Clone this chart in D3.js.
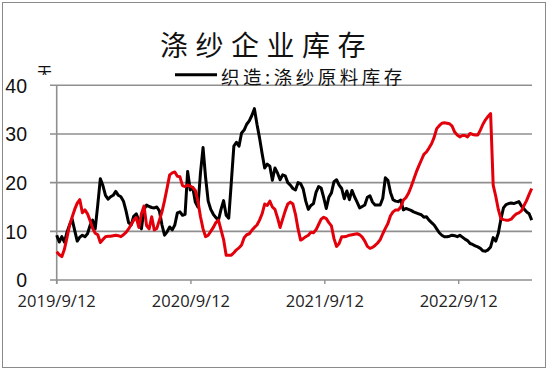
<!DOCTYPE html>
<html><head><meta charset="utf-8">
<script src="https://cdn.jsdelivr.net/npm/d3@7/dist/d3.min.js"></script>
<style>html,body{margin:0;padding:0;background:#fff;}svg{display:block;}</style>
</head><body>
<script>
const titleText = "涤纱企业库存";
const legendLabel = "织造:涤纱原料库存";
const unitLabel = "天";
const startDate = "2019-09-12";
const xTickDates = ["2019-09-12", "2020-09-12", "2021-09-12", "2022-09-12"];
const xTickLabels = ["2019/9/12", "2020/9/12", "2021/9/12", "2022/9/12"];
const yTicks = [0, 10, 20, 30, 40];

// weekly values
const blackValues = [9.2,7.8,8.9,7.8,9.8,11.3,12.5,10.2,8.0,8.8,
9.2,8.9,9.5,11.2,12.3,10.5,15.5,20.8,19.4,17.4,
16.6,17.1,17.4,18.2,17.4,17.1,16.2,14.2,11.8,11.3,
13.1,13.6,12.2,10.5,14.5,15.4,15.1,14.9,14.8,15.0,
14.2,11.3,9.2,9.9,10.9,10.3,11.3,13.8,14.0,13.3,
13.5,22.3,18.5,19.0,16.0,15.0,22.0,27.2,21.0,16.2,
14.5,13.5,12.8,12.3,14.5,16.3,13.3,12.7,20.0,27.5,
28.3,27.5,30.2,30.8,32.0,32.7,33.8,35.2,32.0,29.2,
26.0,23.0,23.8,23.4,20.5,23.0,22.0,20.6,21.6,21.4,
20.0,19.5,18.8,18.5,20.0,19.8,18.7,16.2,14.5,15.3,
15.7,18.0,19.2,18.9,16.9,14.7,17.0,17.9,20.2,20.6,
19.5,18.8,16.7,18.3,16.5,18.4,17.1,16.0,14.8,15.1,
15.4,17.0,17.3,16.0,15.4,15.4,15.4,16.8,21.0,20.5,
18.0,16.5,16.2,16.1,16.4,14.4,14.7,14.5,14.3,14.0,
13.8,13.6,13.4,12.9,13.0,12.3,11.8,11.3,10.5,9.7,
9.2,8.9,8.9,9.0,9.2,9.1,8.9,9.2,8.8,8.4,
8.1,7.5,7.3,7.0,6.8,6.5,6.0,5.9,6.2,6.8,
8.7,8.0,9.6,12.5,14.8,15.5,15.7,15.8,15.7,15.9,
16.1,15.2,14.6,14.0,13.6,12.3];

const redValues = [5.8,5.2,4.8,6.3,8.7,11.2,12.9,14.5,15.8,16.5,
13.8,14.4,13.6,12.2,10.6,9.6,9.3,7.7,8.3,8.9,
9.0,9.0,9.1,9.2,9.1,8.9,9.3,9.8,10.5,11.4,
12.3,12.8,10.8,13.6,15.2,11.2,10.5,13.0,10.3,10.6,
12.3,14.0,16.3,18.9,21.6,22.0,22.2,21.3,21.2,19.4,
19.2,19.5,19.3,19.0,18.4,16.2,13.0,10.5,8.9,9.2,
10.0,10.8,11.8,12.3,10.3,8.3,5.1,5.1,5.1,5.6,
6.2,6.6,7.2,8.7,9.3,9.5,10.2,10.8,11.3,12.3,
13.6,15.6,15.3,16.2,15.0,14.5,12.8,10.8,12.5,14.2,
15.6,16.0,15.6,13.5,10.5,8.2,8.5,8.9,9.2,9.8,
9.7,10.3,11.4,12.5,12.9,12.6,11.8,11.1,8.5,6.9,
7.5,8.9,8.9,9.0,9.2,9.3,9.4,9.5,9.3,8.8,
8.0,6.9,6.5,6.7,7.1,7.6,8.3,9.5,10.6,11.6,
13.2,14.0,14.4,14.4,15.0,16.4,16.9,17.8,19.1,20.6,
22.1,23.4,24.6,25.8,26.3,27.1,28.0,29.3,31.1,31.7,
32.2,32.3,32.2,32.1,31.6,30.4,29.8,29.4,29.7,29.7,
29.4,30.1,29.9,29.8,29.8,30.8,32.0,32.9,33.6,34.2,
19.5,17.2,14.5,12.6,12.4,12.3,12.3,12.5,13.1,13.6,
13.8,14.2,15.3,16.3,17.6,18.8];

const W = 550, H = 370;
const parse = d3.timeParse("%Y-%m-%d");
const start = parse(startDate);
const dates = blackValues.map((_, i) => d3.timeDay.offset(start, 7 * i));

const svg = d3.select("body").append("svg").attr("width", W).attr("height", H);

svg.append("rect").attr("x", 2.5).attr("y", 2.5).attr("width", 543).attr("height", 365)
  .attr("fill", "#fff").attr("stroke", "#8a8a8a").attr("stroke-width", 1);

const x = d3.scaleTime().domain([start, dates[dates.length - 1]]).range([56.7, 531.7]);
const y = d3.scaleLinear().domain([0, 40]).range([280, 85.3]);

const grid = "#8f8f8f";
// gridlines
svg.append("g").selectAll("line").data(yTicks.filter(d => d > 0)).join("line")
  .attr("x1", 50).attr("x2", 532).attr("y1", d => y(d)).attr("y2", d => y(d))
  .attr("stroke", grid).attr("stroke-width", 1.6);
// x axis
svg.append("line").attr("x1", 50).attr("x2", 532).attr("y1", y(0)).attr("y2", y(0))
  .attr("stroke", grid).attr("stroke-width", 1.6);
// y axis
svg.append("line").attr("x1", x(start)).attr("x2", x(start)).attr("y1", y(40)).attr("y2", y(0) + 4)
  .attr("stroke", grid).attr("stroke-width", 1.6);
// x ticks
const xt = xTickDates.map(parse);
svg.append("g").selectAll("line").data(xt).join("line")
  .attr("x1", d => x(d)).attr("x2", d => x(d)).attr("y1", y(0)).attr("y2", y(0) + 4)
  .attr("stroke", grid).attr("stroke-width", 1.4);
svg.append("g").selectAll("text").data(xt).join("text")
  .attr("x", d => x(d)).attr("y", 307).attr("text-anchor", "middle")
  .attr("font-family", "'Open Sans', 'Noto Sans', sans-serif").attr("font-size", 16.5)
  .attr("fill", "#222").text((d, i) => xTickLabels[i]);
// y labels
svg.append("g").selectAll("text").data(yTicks).join("text")
  .attr("x", 27).attr("y", d => y(d) + 7.2).attr("text-anchor", "end")
  .attr("font-family", "'Liberation Sans', Arial, sans-serif").attr("font-size", 19.5)
  .attr("fill", "#111").text(d => d);

// unit label (top part only visible)
svg.append("clipPath").attr("id", "unitclip").append("rect")
  .attr("x", 30).attr("y", 55).attr("width", 30).attr("height", 20);
svg.append("text").attr("x", 37).attr("y", 78).attr("clip-path", "url(#unitclip)")
  .attr("font-family", "'Noto Sans CJK SC', sans-serif").attr("font-size", 15)
  .attr("fill", "#111").text(unitLabel);

// title
svg.append("text").attr("x", 160).attr("y", 56)
  .attr("font-family", "'Noto Sans CJK SC', sans-serif").attr("font-size", 28)
  .attr("letter-spacing", 7.5).attr("fill", "#111").text(titleText);

// legend
svg.append("line").attr("x1", 175).attr("x2", 217).attr("y1", 74.7).attr("y2", 74.7)
  .attr("stroke", "#000").attr("stroke-width", 3);
svg.append("text").attr("x", 221).attr("y", 83.5)
  .attr("font-family", "'Noto Sans CJK SC', sans-serif").attr("font-size", 18.5)
  .attr("letter-spacing", 3.5).attr("fill", "#111").text(legendLabel);

const line = d3.line().x((d, i) => x(dates[i])).y(d => y(d)).curve(d3.curveLinear);
svg.append("path").datum(blackValues).attr("d", line).attr("fill", "none")
  .attr("stroke", "#000").attr("stroke-width", 3).attr("stroke-linejoin", "round");
svg.append("path").datum(redValues).attr("d", line).attr("fill", "none")
  .attr("stroke", "#e3000b").attr("stroke-width", 3).attr("stroke-linejoin", "round");
</script>
</body></html>
